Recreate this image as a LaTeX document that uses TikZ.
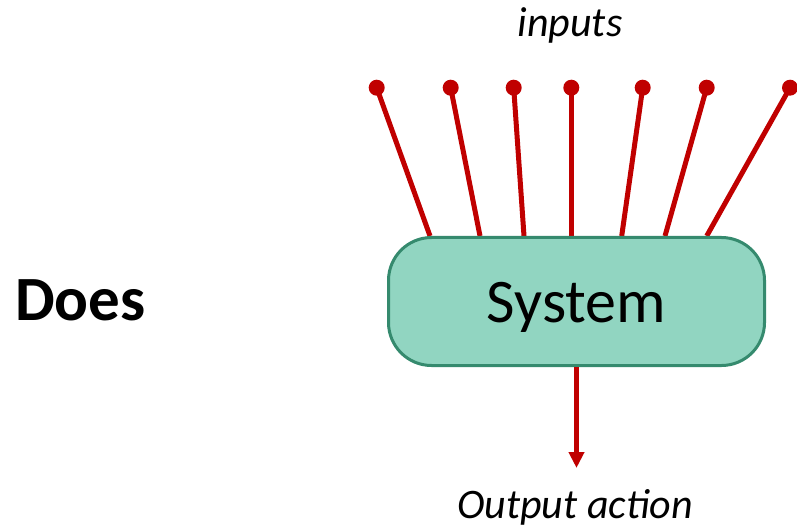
\documentclass[tikz,border=0pt]{standalone}
\usepackage{fontspec}
\setmainfont{Carlito}
\usetikzlibrary{arrows.meta}
\definecolor{wirered}{HTML}{C00000}
\definecolor{boxfill}{HTML}{91D5C1}
\definecolor{boxline}{HTML}{358A6E}
\tikzset{
  wire/.style={draw=wirered, line width=5pt},
  pin/.style={circle, fill=wirered, inner sep=0pt, minimum size=16pt},
  sysbox/.style={draw=boxline, fill=boxfill, line width=3pt, rounded corners=43pt,
    minimum width=376pt, minimum height=128pt, inner sep=0pt,
    font=\fontsize{62}{70}\selectfont},
  label/.style={inner sep=0pt, font=\fontsize{42}{50}\selectfont\itshape},
}
\begin{document}
\begin{tikzpicture}[x=1pt, y=-1pt]
  \useasboundingbox (0,0) rectangle (797,529);

  % input pins
  \node[pin] (d1) at (376.7,87.7) {};
  \node[pin] (d2) at (450.7,87.7) {};
  \node[pin] (d3) at (513.7,87.7) {};
  \node[pin] (d4) at (571.3,87.7) {};
  \node[pin] (d5) at (642.7,87.7) {};
  \node[pin] (d6) at (706.7,87.7) {};
  \node[pin] (d7) at (790,87.7) {};

  % where each input meets the top of the box
  \coordinate (p1) at (430,236);
  \coordinate (p2) at (480,236);
  \coordinate (p3) at (524,236);
  \coordinate (p4) at (571.3,236);
  \coordinate (p5) at (621.7,236);
  \coordinate (p6) at (665,236);
  \coordinate (p7) at (706.7,236);

  \foreach \i in {1,...,7} {
    \draw[wire] (d\i.center) -- (p\i);
  }

  % the system block (baseline set 21pt below the centre)
  \node[sysbox] (sys) at (576.5,301.5) {\raisebox{-21pt}[0pt][0pt]{System}};

  % output arrow
  \coordinate (out) at (576.5,468);
  \draw[wire, -{Triangle[width=15pt,length=16pt]}] (sys.south) -- (out);

  % texts
  \node[label] (inp) at (570,25) {inputs};
  \node[label] (outl) at (575,507) {Output action};
  \node[inner sep=0pt, anchor=west, font=\fontsize{63}{70}\selectfont\bfseries] (does) at (15,300) {Does};
\end{tikzpicture}
\end{document}
